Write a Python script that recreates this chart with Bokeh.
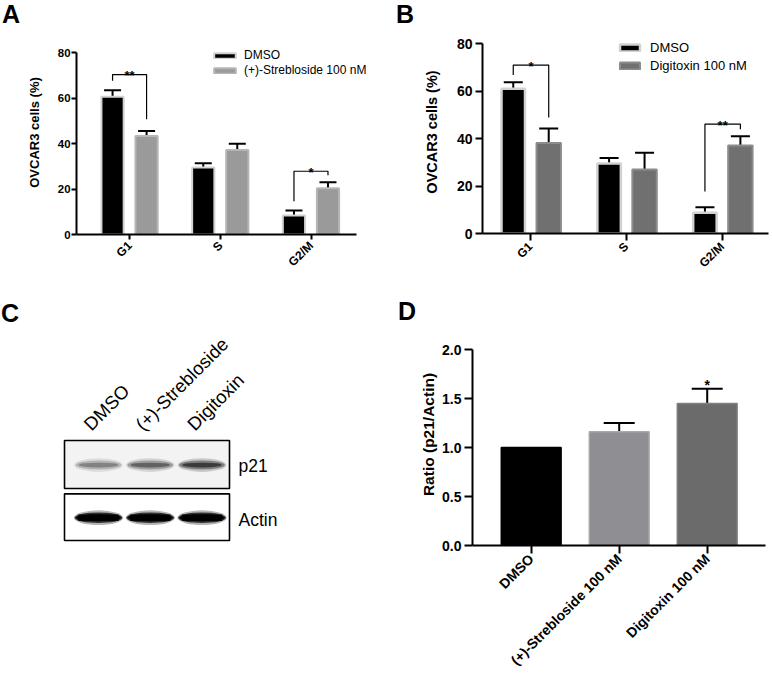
import math
from bokeh.plotting import figure
from bokeh.layouts import column, row
from bokeh.models import (Range1d, FixedTicker, Legend, LegendItem, Whisker, TeeHead,
                          ColumnDataSource, NumeralTickFormatter, Div)
from bokeh.embed import file_html
from bokeh.resources import INLINE
from bokeh.core.properties import value

# ---------------- data ----------------
phases = ["G1", "S", "G2/M"]
a_dmso = [60.5, 29.4, 8.4]
a_dmso_err = [2.9, 1.9, 2.2]
a_streb = [43.3, 37.1, 20.3]
a_streb_err = [2.2, 2.8, 2.7]
a_sig_phase = ["G1", "G2/M"]
a_sig_text = ["**", "*"]
a_sig_left = [67.6, 14.6]
a_sig_top = [70.3, 27.8]
a_sig_right = [50.7, 26.0]

b_dmso = [61.0, 29.5, 8.7]
b_dmso_err = [2.8, 2.3, 2.4]
b_digi = [38.2, 27.0, 37.1]
b_digi_err = [6.1, 7.0, 3.9]
b_sig_phase = ["G1", "G2/M"]
b_sig_text = ["*", "**"]
b_sig_left = [66.8, 17.7]
b_sig_top = [71.0, 46.1]
b_sig_right = [48.9, 44.0]

blot_lanes = ["DMSO", "(+)-Strebloside", "Digitoxin"]
blot_rows = ["p21", "Actin"]
p21_intensity = [0.45, 0.62, 0.88]
actin_intensity = [0.97, 0.97, 0.97]

d_groups = ["DMSO", "(+)-Strebloside 100 nM", "Digitoxin 100 nM"]
d_ratio = [1.0, 1.16, 1.45]
d_err = [0.0, 0.09, 0.15]
d_sig = ["", "", "*"]

panel_letters = ["A", "B", "C", "D"]

# ---------------- helpers ----------------
FONT = "Liberation Sans"


def fs(v):
    return f"{v:.1f}px"


def make_fig(w, h, left, right, top, bottom, xr, yr):
    p = figure(width=w, height=h, x_range=xr, y_range=yr,
               output_backend="svg", toolbar_location=None, tools="")
    p.min_border_left = left
    p.min_border_right = right
    p.min_border_top = top
    p.min_border_bottom = bottom
    p.outline_line_color = None
    p.xgrid.visible = False
    p.ygrid.visible = False
    p.background_fill_color = "white"
    p.border_fill_color = "white"
    return p


def style_axes(p, xfont, yfont, lfont, tick_out, ystand, xstand, lstand):
    for ax in p.axis:
        ax.axis_line_width = 2
        ax.axis_line_color = "black"
        ax.major_tick_line_width = 2
        ax.major_tick_line_color = "black"
        ax.major_tick_out = tick_out
        ax.major_tick_in = 0
        ax.minor_tick_line_color = None
        ax.major_label_text_font = FONT
        ax.major_label_text_font_style = "bold"
        ax.major_label_text_color = "black"
        ax.axis_label_text_font = FONT
        ax.axis_label_text_font_style = "bold"
        ax.axis_label_text_color = "black"
        ax.axis_label_text_font_size = fs(lfont)
    p.yaxis.major_label_text_font_size = fs(yfont)
    p.xaxis.major_label_text_font_size = fs(xfont)
    p.yaxis.major_label_standoff = ystand
    p.xaxis.major_label_standoff = xstand
    p.yaxis.axis_label_standoff = lstand
    p.xaxis.major_label_orientation = math.pi / 4


def add_err(p, xs, tops, errs, cap):
    sel = [(x, t, e) for x, t, e in zip(xs, tops, errs) if e > 0]
    src = ColumnDataSource(dict(x=[s[0] for s in sel], lo=[s[1] for s in sel],
                                hi=[s[1] + s[2] for s in sel]))
    w = Whisker(source=src, base="x", lower="lo", upper="hi", dimension="height",
                line_color="black", line_width=2,
                upper_head=TeeHead(size=cap, line_width=2, line_color="black"),
                lower_head=None)
    p.add_layout(w)


def add_brackets(p, sel, texts, lefts, tops, rights, off_l, off_r, font):
    xs, ys, cx = [], [], []
    for ph, l, t, r in zip(sel, lefts, tops, rights):
        i = phases.index(ph)
        xl, xr_ = i + off_l, i + off_r
        xs.append([xl, xl, xr_, xr_])
        ys.append([l, t, t, r])
        cx.append((xl + xr_) / 2)
    p.multi_line(xs, ys, line_color="black", line_width=1.2)
    p.text(x=cx, y=tops, text=texts, text_align="center", text_baseline="alphabetic",
           y_offset=1, text_font=value(FONT), text_font_style="bold",
           text_font_size=fs(font), text_color="black")


LETTER_PX = 25
LETTER_LH = 28  # line box; baseline sits ~22.7px below its top for 25px


def letter_div(txt, w, h, pad_left, pad_top):
    html = (f'<div style="font-family:\'{FONT}\';font-weight:bold;font-size:{LETTER_PX}px;'
            f'line-height:{LETTER_LH}px;padding:{pad_top}px 0 0 {pad_left}px;margin:0;'
            f'color:black">{txt}</div>')
    return Div(text=html, width=w, height=h, margin=(0, 0, 0, 0))


idx = list(range(len(phases)))

TOP_DIV = 28      # strip holding letters A / B
TOP_FIG_H = 278 - TOP_DIV
AXIS_Y_TOP = 234  # page y of the x axes of A and B
FRAME_TOP_Y = 30
TOP_BORDER = FRAME_TOP_Y - TOP_DIV

# ---------------- panel A ----------------
A_unit = 90.7
A_ys = (AXIS_Y_TOP - 52) / 80.0
A_x0 = -(129.3 - 76) / A_unit
pA = make_fig(385, TOP_FIG_H, 76, 5, TOP_BORDER, 278 - AXIS_Y_TOP,
              Range1d(A_x0, 2 + (380 - 310.7) / A_unit),
              Range1d(0, (AXIS_Y_TOP - FRAME_TOP_Y) / A_ys))
offA_d, offA_t = -0.19, 0.185
xA_d = [i + offA_d for i in idx]
xA_t = [i + offA_t for i in idx]
rA1 = pA.vbar(x=xA_d, top=a_dmso, width=0.245, fill_color="black",
              line_color="#d2d2d2", line_width=2)
rA2 = pA.vbar(x=xA_t, top=a_streb, width=0.245, fill_color="#9a9a9a",
              line_color="#b6b6b6", line_width=2)
add_err(pA, xA_d, a_dmso, a_dmso_err, 17)
add_err(pA, xA_t, a_streb, a_streb_err, 17)
add_brackets(pA, a_sig_phase, a_sig_text, a_sig_left, a_sig_top, a_sig_right,
             offA_d, offA_t, 13)
pA.yaxis.axis_label = "OVCAR3 cells (%)"
pA.yaxis.bounds = (0, 80)
pA.yaxis.ticker = FixedTicker(ticks=[0, 20, 40, 60, 80])
pA.xaxis.ticker = FixedTicker(ticks=idx)
pA.xaxis.bounds = (A_x0, 2 + (356 - 310.7) / A_unit)
pA.xaxis.major_label_overrides = {i: n for i, n in enumerate(phases)}
style_axes(pA, 12, 11.4, 13, 5, 1, 4, 13)
legA = Legend(items=[LegendItem(label="DMSO", renderers=[rA1]),
                     LegendItem(label="(+)-Strebloside 100 nM", renderers=[rA2])],
              location=(211 - 76, AXIS_Y_TOP - 77.5),
              glyph_width=27, glyph_height=7, label_height=15, label_standoff=6,
              padding=0, spacing=0, margin=0, border_line_alpha=0,
              background_fill_alpha=0, label_text_font=FONT,
              label_text_font_size=fs(12), label_text_color="black")
pA.add_layout(legA)

# ---------------- panel B ----------------
B_unit = 95.8
B_ys = (AXIS_Y_TOP - 43.3) / 80.0
B_x0 = -(530 - 482) / B_unit
pB = make_fig(387, TOP_FIG_H, 97, 4, TOP_BORDER, 278 - AXIS_Y_TOP,
              Range1d(B_x0, 2 + (768 - 721.7) / B_unit),
              Range1d(0, (AXIS_Y_TOP - FRAME_TOP_Y) / B_ys))
offB_d, offB_t = -0.18, 0.19
xB_d = [i + offB_d for i in idx]
xB_t = [i + offB_t for i in idx]
rB1 = pB.vbar(x=xB_d, top=b_dmso, width=0.245, fill_color="black",
              line_color="#d2d2d2", line_width=2.5)
rB2 = pB.vbar(x=xB_t, top=b_digi, width=0.255, fill_color="#707070",
              line_color="#8c8c8c", line_width=2)
add_err(pB, xB_d, b_dmso, b_dmso_err, 19)
add_err(pB, xB_t, b_digi, b_digi_err, 19)
add_brackets(pB, b_sig_phase, b_sig_text, b_sig_left, b_sig_top, b_sig_right,
             offB_d, offB_t, 13)
pB.yaxis.axis_label = "OVCAR3 cells (%)"
pB.yaxis.bounds = (0, 80)
pB.yaxis.ticker = FixedTicker(ticks=[0, 20, 40, 60, 80])
pB.xaxis.ticker = FixedTicker(ticks=idx)
pB.xaxis.major_label_overrides = {i: n for i, n in enumerate(phases)}
style_axes(pB, 12, 14, 14.5, 7, 3, 4, 14)
legB = Legend(items=[LegendItem(label="DMSO", renderers=[rB1]),
                     LegendItem(label="Digitoxin 100 nM", renderers=[rB2])],
              location=(617 - 482, AXIS_Y_TOP - 75.9),
              glyph_width=25, glyph_height=9, label_height=18, label_standoff=8,
              padding=0, spacing=0, margin=0, border_line_alpha=0,
              background_fill_alpha=0, label_text_font=FONT,
              label_text_font_size=fs(13), label_text_color="black")
pB.add_layout(legB)

# ---------------- bottom row geometry ----------------
BOT_DIV = 45                 # strip holding letters C / D (page y 278..323)
BOT_FIG_H = 679 - 278 - BOT_DIV
BOT_FRAME_TOP = 278 + BOT_DIV
D_AXIS_Y = 545
BOT_BORDER = 679 - D_AXIS_Y

# ---------------- panel C (western blot) ----------------
lane_unit, lane0 = 51.75, 98
row_unit, p21_y, actin_y = 52.7, 464, 516.7
pC = make_fig(385, BOT_FIG_H, 0, 0, 0, BOT_BORDER,
              Range1d(-lane0 / lane_unit, (385 - lane0) / lane_unit),
              Range1d(-(D_AXIS_Y - actin_y) / row_unit,
                      1 + (p21_y - BOT_FRAME_TOP) / row_unit))
pC.axis.visible = False
lanes_x = list(range(len(blot_lanes)))
box_l = (64 - lane0) / lane_unit
box_r = (229 - lane0) / lane_unit
pC.rect(x=[(box_l + box_r) / 2] * 2, y=[1, 0], width=box_r - box_l,
        height=[0.91, 0.886], fill_color=["#f3f3f3", "white"],
        line_color="black", line_width=1.6)
for w_, h_, a_ in [(0.94, 0.26, 0.2), (0.88, 0.17, 0.42), (0.76, 0.09, 0.6)]:
    pC.ellipse(x=lanes_x, y=[0.99] * 3, width=w_, height=h_, fill_color="black",
               fill_alpha=[a_ * v for v in p21_intensity], line_color=None)
for w_, h_, a_ in [(0.95, 0.28, 0.3), (0.92, 0.2, 0.75), (0.86, 0.13, 0.95)]:
    pC.ellipse(x=lanes_x, y=[-0.01] * 3, width=w_, height=h_, fill_color="black",
               fill_alpha=[a_ * v for v in actin_intensity], line_color=None)
pC.rect(x=lanes_x, y=[-0.01] * 3, width=0.78, height=0.12, fill_color="black",
        fill_alpha=[0.9 * v for v in actin_intensity], line_color=None)
pC.text(x=[i - 0.08 for i in lanes_x], y=[1.57] * 3, text=blot_lanes, angle=math.pi / 4,
        text_align="left", text_baseline="bottom", text_font=value(FONT),
        text_font_size=fs(18.5), text_color="black")
pC.text(x=[len(blot_lanes) - 1 + 0.705] * 2, y=[0.98, -0.06], text=blot_rows,
        text_align="left", text_baseline="middle", text_font=value(FONT),
        text_font_size=fs(17.5), text_color="black")

# ---------------- panel D ----------------
D_unit, D_ys = 88, 98.0
pD = make_fig(387, BOT_FIG_H, 87, 7, 0, BOT_BORDER,
              Range1d(-(530.7 - 472) / D_unit, 2 + (765 - 706.7) / D_unit),
              Range1d(0, (D_AXIS_Y - BOT_FRAME_TOP) / D_ys))
d_x = list(range(len(d_groups)))
pD.vbar(x=d_x, top=d_ratio, width=0.68,
        fill_color=["black", "#8f8e93", "#6b6b6b"],
        line_color=["black", "#a9a9ab", "#7f7f7f"], line_width=1.5)
add_err(pD, d_x, d_ratio, d_err, 31)
pD.text(x=d_x, y=[r + e for r, e in zip(d_ratio, d_err)], text=d_sig,
        text_align="center", text_baseline="alphabetic", y_offset=-4,
        text_font=value(FONT), text_font_style="bold", text_font_size=fs(14),
        text_color="black")
pD.yaxis.axis_label = "Ratio (p21/Actin)"
pD.yaxis.bounds = (0, 2)
pD.yaxis.ticker = FixedTicker(ticks=[0, 0.5, 1.0, 1.5, 2.0])
pD.yaxis.formatter = NumeralTickFormatter(format="0.0")
pD.xaxis.ticker = FixedTicker(ticks=d_x)
pD.xaxis.major_label_overrides = {i: n for i, n in enumerate(d_groups)}
style_axes(pD, 14, 14, 15.5, 8, 3, 3, 2)

# ---------------- panel letters & layout ----------------
divA = letter_div(panel_letters[0], 385, TOP_DIV, 2, 0)
divB = letter_div(panel_letters[1], 387, TOP_DIV, 11, 0)
divC = letter_div(panel_letters[2], 385, BOT_DIV, 1, 44 - 23)
divD = letter_div(panel_letters[3], 387, BOT_DIV, 13, 42 - 23)

layout = column(row(column(divA, pA), column(divB, pB)),
                row(column(divC, pC), column(divD, pD)))
open("out.html", "w").write(file_html(layout, INLINE))
